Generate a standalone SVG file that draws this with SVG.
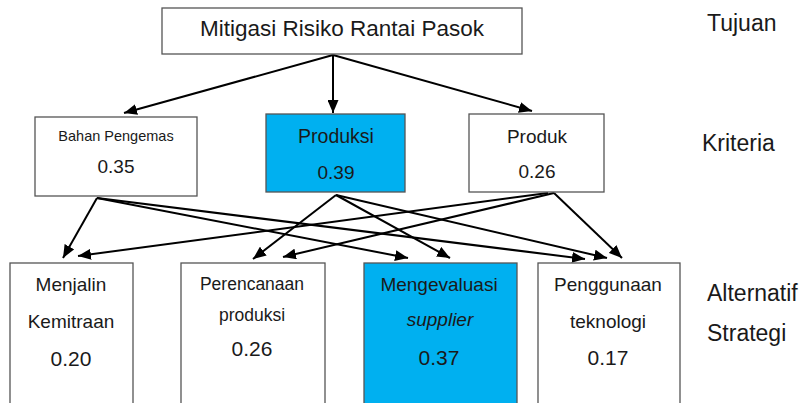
<svg xmlns="http://www.w3.org/2000/svg" width="806" height="403" viewBox="0 0 806 403">
  <defs>
    <marker id="arrow" markerUnits="userSpaceOnUse" markerWidth="13" markerHeight="11" refX="13" refY="5.5" orient="auto">
      <path d="M0,0 L13,5.5 L0,11 z" fill="#000"/>
    </marker>
    <style>
      .box { fill: #fff; stroke: #555; stroke-width: 1.3; }
      .hl { fill: #00b0f0; stroke: #555; stroke-width: 1.3; }
      .edge { stroke: #000; stroke-width: 2; fill: none; marker-end: url(#arrow); }
      text { font-family: "Liberation Sans", Arial, sans-serif; fill: #1a1a1a; text-anchor: middle; }
      .side { text-anchor: start; font-size: 23px; }
    </style>
  </defs>

  <rect width="806" height="403" fill="#fff"/>

  <!-- connectors -->
  <g id="connectors">
    <!-- goal to criteria -->
    <line class="edge" x1="333" y1="55" x2="124" y2="113"/>
    <line class="edge" x1="333" y1="55" x2="333" y2="113"/>
    <line class="edge" x1="333" y1="55" x2="532" y2="111"/>
    <!-- Bahan Pengemas to alternatives -->
    <line class="edge" x1="97" y1="198" x2="63" y2="258"/>
    <line class="edge" x1="97" y1="198" x2="408" y2="258"/>
    <line class="edge" x1="97" y1="198" x2="585" y2="259"/>
    <!-- Produksi to alternatives -->
    <line class="edge" x1="336" y1="195" x2="253" y2="259"/>
    <line class="edge" x1="336" y1="195" x2="450" y2="258"/>
    <line class="edge" x1="336" y1="195" x2="607" y2="258"/>
    <!-- Produk to alternatives -->
    <line class="edge" x1="548" y1="193" x2="78" y2="256"/>
    <line class="edge" x1="554" y1="193" x2="283" y2="257"/>
    <line class="edge" x1="554" y1="193" x2="622" y2="258"/>
  </g>

  <!-- goal -->
  <g id="goal">
    <rect class="box" x="162" y="8" width="360" height="46"/>
    <text x="342" y="36" font-size="22.5">Mitigasi Risiko Rantai Pasok</text>
  </g>

  <!-- criteria -->
  <g id="crit-bahan">
    <rect class="box" x="35" y="117" width="162" height="79"/>
    <text x="116" y="141" font-size="14.5">Bahan Pengemas</text>
    <text x="116" y="173" font-size="19">0.35</text>
  </g>
  <g id="crit-produksi">
    <rect class="hl" x="266" y="114" width="139" height="78"/>
    <text x="336" y="143" font-size="19.5">Produksi</text>
    <text x="336" y="179" font-size="19">0.39</text>
  </g>
  <g id="crit-produk">
    <rect class="box" x="469" y="114" width="135" height="78"/>
    <text x="537" y="143" font-size="19">Produk</text>
    <text x="537" y="178" font-size="19">0.26</text>
  </g>

  <!-- alternatives -->
  <g id="alt-kemitraan">
    <rect class="box" x="10" y="263" width="123" height="150"/>
    <text x="71" y="291" font-size="19">Menjalin</text>
    <text x="71" y="328" font-size="19">Kemitraan</text>
    <text x="71" y="366" font-size="21">0.20</text>
  </g>
  <g id="alt-perencanaan">
    <rect class="box" x="181" y="263" width="144" height="150"/>
    <text x="252" y="290" font-size="17.5">Perencanaan</text>
    <text x="252" y="321" font-size="17.5">produksi</text>
    <text x="252" y="356" font-size="21">0.26</text>
  </g>
  <g id="alt-supplier">
    <rect class="hl" x="364" y="263" width="153" height="150"/>
    <text x="439" y="291" font-size="19">Mengevaluasi</text>
    <text x="440" y="326" font-size="19" font-style="italic">supplier</text>
    <text x="439" y="365" font-size="21">0.37</text>
  </g>
  <g id="alt-teknologi">
    <rect class="box" x="538" y="263" width="142" height="150"/>
    <text x="608" y="291" font-size="19">Penggunaan</text>
    <text x="608" y="328" font-size="19">teknologi</text>
    <text x="608" y="365" font-size="21">0.17</text>
  </g>

  <!-- level labels -->
  <g id="levels">
    <text class="side" x="707" y="31">Tujuan</text>
    <text class="side" x="702" y="151">Kriteria</text>
    <text class="side" x="707" y="301">Alternatif</text>
    <text class="side" x="707" y="341">Strategi</text>
  </g>
</svg>
